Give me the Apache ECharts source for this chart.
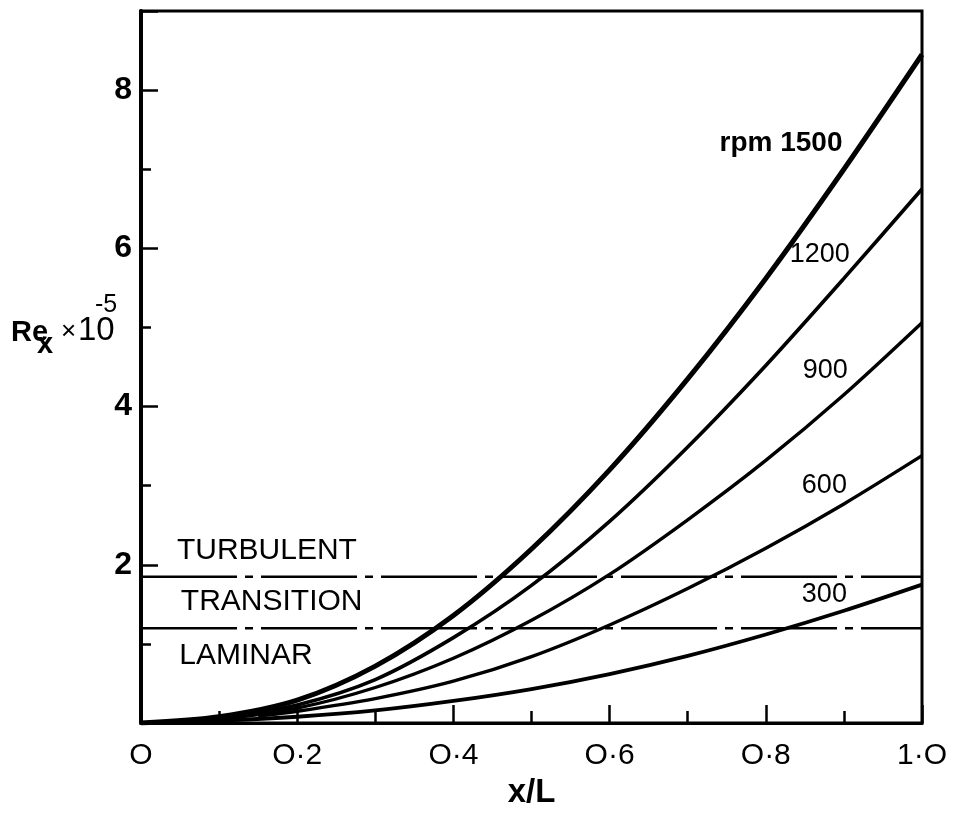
<!DOCTYPE html>
<html>
<head>
<meta charset="utf-8">
<title>Re_x vs x/L</title>
<script src="https://cdn.jsdelivr.net/npm/echarts@6/dist/echarts.min.js"></script>
<style>
  html, body { margin: 0; padding: 0; background: #fff; }
  #chart { width: 961px; height: 814px; }
</style>
</head>
<body>
<div id="chart"></div>
<script>
// Local Reynolds number along the plate for five rotor speeds
const rpm1500 = [[0,0],[0.1,0.08],[0.2,0.29],[0.3,0.72],[0.4,1.36],[0.5,2.2],[0.6,3.2],[0.7,4.35],[0.8,5.62],[0.9,7.0],[1.0,8.45]];
const rpm1200 = [[0,0],[0.1,0.06],[0.2,0.23],[0.3,0.55],[0.4,1.08],[0.5,1.74],[0.6,2.55],[0.7,3.49],[0.8,4.52],[0.9,5.62],[1.0,6.75]];
const rpm900  = [[0,0],[0.1,0.05],[0.2,0.19],[0.3,0.45],[0.4,0.82],[0.5,1.3],[0.6,1.88],[0.7,2.57],[0.8,3.32],[0.9,4.15],[1.0,5.06]];
const rpm600  = [[0.15,0.09],[0.2,0.15],[0.3,0.31],[0.4,0.53],[0.5,0.84],[0.6,1.24],[0.7,1.7],[0.8,2.21],[0.9,2.77],[1.0,3.38]];
const rpm300  = [[0,0],[0.1,0.03],[0.2,0.08],[0.3,0.16],[0.4,0.28],[0.5,0.43],[0.6,0.62],[0.7,0.85],[0.8,1.12],[0.9,1.42],[1.0,1.75]];

// Regime boundaries (Re_x x 10^-5)
const turbulentOnset = 1.85;
const transitionOnset = 1.2;

// Tick labels
const xTickLabels = { 0: 'O', 0.2: 'O·2', 0.4: 'O·4', 0.6: 'O·6', 0.8: 'O·8', 1: '1·O' };
const yTickLabels = { 2: '2', 4: '4', 6: '6', 8: '8' };

const curveLabels = ['rpm 1500', '1200', '900', '600', '300'];
const regimeLabels = ['TURBULENT', 'TRANSITION', 'LAMINAR'];

const FONT = '"Liberation Sans", Arial, sans-serif';
const INK = '#000';

function curve(name, data, width, labelText, labelCoord, bold) {
  return {
    name: name,
    type: 'line',
    data: data,
    smooth: 0.3,
    symbol: 'none',
    lineStyle: { color: INK, width: width },
    z: 3,
    markPoint: {
      symbol: 'circle',
      symbolSize: 0,
      silent: true,
      data: [{ coord: labelCoord, value: labelText }],
      label: {
        show: true,
        position: 'inside',
        formatter: labelText,
        color: INK,
        fontFamily: FONT,
        fontSize: bold ? 28 : 27,
        fontWeight: bold ? 'bold' : 'normal'
      }
    }
  };
}

function boundary(level, labels) {
  return {
    type: 'line',
    data: [[0, level], [1, level]],
    symbol: 'none',
    lineStyle: { color: INK, width: 2.5, type: [96, 8, 8, 8] },
    z: 2,
    markPoint: {
      symbol: 'circle',
      symbolSize: 0,
      silent: true,
      data: labels.map(l => ({ coord: l.coord, value: l.text, label: { formatter: l.text } })),
      label: {
        show: true,
        position: 'right',
        distance: 0,
        color: INK,
        fontFamily: FONT,
        fontSize: 30
      }
    }
  };
}

const chart = echarts.init(document.getElementById('chart'), null, { renderer: 'canvas' });

chart.setOption({
  backgroundColor: '#fff',
  animation: false,
  grid: {
    left: 141, right: 39, top: 11, bottom: 89,
    show: true, borderColor: INK, borderWidth: 3, backgroundColor: 'transparent'
  },
  xAxis: {
    type: 'value',
    min: 0, max: 1, interval: 0.2,
    name: 'x/L',
    nameLocation: 'middle',
    nameGap: 52,
    nameTextStyle: { color: INK, fontFamily: FONT, fontSize: 33, fontWeight: 'bold' },
    axisLine: { show: true, lineStyle: { color: INK, width: 3 } },
    axisTick: { show: true, inside: true, length: 18, lineStyle: { color: INK, width: 2.5 } },
    minorTick: { show: true, splitNumber: 2, length: 12, lineStyle: { color: INK, width: 2.5 } },
    splitLine: { show: false },
    axisLabel: {
      color: INK, fontFamily: FONT, fontSize: 30, margin: 18,
      formatter: v => xTickLabels[Math.round(v * 10) / 10] || ''
    }
  },
  yAxis: {
    type: 'value',
    min: 0, max: 9, interval: 2,
    axisLine: { show: true, lineStyle: { color: INK, width: 4 } },
    axisTick: { show: true, inside: true, length: 17, lineStyle: { color: INK, width: 2.5 } },
    minorTick: { show: true, splitNumber: 2, length: 10, lineStyle: { color: INK, width: 2.5 } },
    splitLine: { show: false },
    axisLabel: {
      color: INK, fontFamily: FONT, fontSize: 32, fontWeight: 'bold', margin: 9,
      showMaxLabel: false,
      formatter: v => yTickLabels[v] || ''
    }
  },
  graphic: [
    { type: 'text', left: 11, top: 318, style: { text: 'Re', font: 'bold 29px ' + FONT, fill: INK } },
    { type: 'text', left: 37, top: 330, style: { text: 'x', font: 'bold 29px ' + FONT, fill: INK } },
    { type: 'text', left: 61, top: 319, style: { text: '×', font: '26px ' + FONT, fill: INK } },
    { type: 'text', left: 78, top: 314, style: { text: '10', font: '33px ' + FONT, fill: INK } },
    { type: 'text', left: 95, top: 293, style: { text: '-5', font: '25px ' + FONT, fill: INK } }
  ],
  series: [
    curve('1500', rpm1500, 5, curveLabels[0], [0.8195, 7.33], true),
    curve('1200', rpm1200, 3.6, curveLabels[1], [0.869, 5.92], false),
    curve('900', rpm900, 3.4, curveLabels[2], [0.876, 4.46], false),
    curve('600', rpm600, 3.4, curveLabels[3], [0.875, 3.0], false),
    curve('300', rpm300, 3.8, curveLabels[4], [0.875, 1.62], false),
    boundary(turbulentOnset, [
      { text: regimeLabels[0], coord: [0.046, 2.18] },
      { text: regimeLabels[1], coord: [0.051, 1.53] }
    ]),
    boundary(transitionOnset, [
      { text: regimeLabels[2], coord: [0.049, 0.85] }
    ])
  ]
});
</script>
</body>
</html>
